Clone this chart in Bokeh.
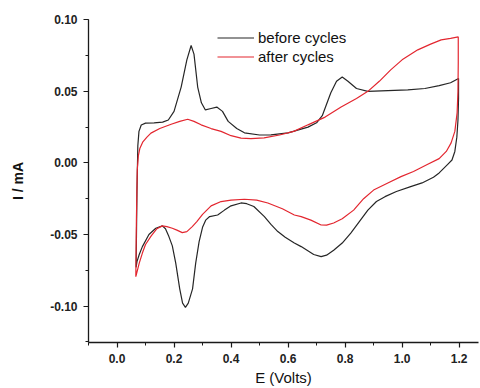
from bokeh.plotting import figure
from bokeh.models import (Range1d, SingleIntervalTicker, PrintfTickFormatter,
                          Legend, LegendItem, ColumnDataSource)
from bokeh.embed import file_html
from bokeh.resources import INLINE

# ---- data ----
before_E = [0.067, 0.070, 0.073, 0.077, 0.085, 0.10, 0.13, 0.16, 0.18, 0.20, 0.225,
            0.245, 0.26, 0.27, 0.283, 0.296, 0.31, 0.33, 0.35, 0.37, 0.39, 0.42,
            0.447, 0.50, 0.54, 0.60, 0.67, 0.70, 0.72, 0.75, 0.77, 0.79, 0.81,
            0.84, 0.88, 0.95, 1.02, 1.08, 1.13, 1.17, 1.198,
            1.198, 1.196, 1.192, 1.185, 1.175, 1.16, 1.13, 1.11, 1.07, 1.03, 0.98,
            0.94, 0.91, 0.88, 0.85, 0.82, 0.79, 0.76, 0.735, 0.716, 0.69, 0.646,
            0.622, 0.59, 0.564, 0.54, 0.517, 0.48, 0.455, 0.435, 0.40, 0.377,
            0.353, 0.325, 0.311, 0.30, 0.288, 0.276, 0.265, 0.25, 0.24, 0.23,
            0.22, 0.206, 0.194, 0.182, 0.17, 0.159, 0.136, 0.112, 0.089, 0.078,
            0.070, 0.067]
before_I = [-0.073, -0.020, 0.012, 0.022, 0.0265, 0.0278, 0.028, 0.0285, 0.030,
            0.036, 0.053, 0.072, 0.082, 0.076, 0.053, 0.042, 0.037, 0.038, 0.039,
            0.036, 0.029, 0.024, 0.021, 0.0195, 0.0196, 0.021, 0.025, 0.028, 0.033,
            0.049, 0.057, 0.060, 0.057, 0.052, 0.050, 0.0505, 0.051, 0.052, 0.054,
            0.056, 0.059,
            0.045, 0.030, 0.018, 0.008, 0.002, -0.001, -0.007, -0.010, -0.014,
            -0.0166, -0.020, -0.0236, -0.027, -0.033, -0.041, -0.049, -0.056,
            -0.061, -0.0645, -0.0655, -0.064, -0.0585, -0.056, -0.052, -0.048,
            -0.043, -0.0375, -0.0305, -0.0285, -0.028, -0.030, -0.033, -0.0364,
            -0.0375, -0.040, -0.045, -0.055, -0.070, -0.088, -0.098, -0.101,
            -0.098, -0.088, -0.070, -0.058, -0.0515, -0.046, -0.044, -0.0457,
            -0.050, -0.0585, -0.064, -0.069, -0.073]

after_E = [0.066, 0.068, 0.071, 0.075, 0.08, 0.09, 0.105, 0.119, 0.15, 0.19, 0.22,
           0.248, 0.27, 0.295, 0.33, 0.365, 0.40, 0.435, 0.47, 0.516, 0.57, 0.62,
           0.67, 0.73, 0.786, 0.84, 0.88, 0.92, 0.96, 1.00, 1.055, 1.10, 1.137,
           1.17, 1.197,
           1.197, 1.196, 1.193, 1.185, 1.172, 1.155, 1.13, 1.09, 1.04, 0.996,
           0.95, 0.90, 0.865, 0.83, 0.79, 0.76, 0.735, 0.716, 0.68, 0.646, 0.622,
           0.58, 0.529, 0.49, 0.447, 0.40, 0.365, 0.33, 0.30, 0.28, 0.264, 0.245,
           0.229, 0.21, 0.194, 0.175, 0.159, 0.14, 0.12, 0.10, 0.089, 0.078,
           0.066]
after_I = [-0.0795, -0.040, -0.005, 0.005, 0.010, 0.0145, 0.018, 0.0208, 0.024,
           0.027, 0.029, 0.0305, 0.029, 0.0266, 0.024, 0.022, 0.019, 0.0173,
           0.017, 0.0175, 0.0195, 0.022, 0.0266, 0.032, 0.039, 0.045, 0.050,
           0.057, 0.065, 0.072, 0.079, 0.083, 0.086, 0.087, 0.088,
           0.070, 0.050, 0.035, 0.022, 0.014, 0.008, 0.003, -0.001, -0.006,
           -0.0096, -0.014, -0.019, -0.025, -0.033, -0.039, -0.042, -0.0435,
           -0.0434, -0.040, -0.0375, -0.0364, -0.032, -0.028, -0.026, -0.0254,
           -0.026, -0.027, -0.030, -0.036, -0.041, -0.0445, -0.048, -0.0487,
           -0.047, -0.0457, -0.0445, -0.044, -0.046, -0.051, -0.057, -0.063,
           -0.070, -0.0795]

series_labels = ["before cycles", "after cycles"]
series_colors = ["#262626", "#e3262f"]

FONT = "Liberation Sans"

p = figure(width=480, height=388, output_backend="svg", toolbar_location=None,
           x_range=Range1d(-0.1, 1.268), y_range=Range1d(-0.1255, 0.1002),
           min_border_left=88, min_border_right=2, min_border_top=19,
           min_border_bottom=46, background_fill_color="white",
           border_fill_color="white")
p.outline_line_color = None
p.xgrid.visible = False
p.ygrid.visible = False

r1 = p.line(x="E", y="I", source=ColumnDataSource(dict(E=before_E, I=before_I)),
            line_color=series_colors[0], line_width=1.2)
r2 = p.line(x="E", y="I", source=ColumnDataSource(dict(E=after_E, I=after_I)),
            line_color=series_colors[1], line_width=1.2)

xa = p.xaxis[0]
ya = p.yaxis[0]
xa.ticker = SingleIntervalTicker(interval=0.2, num_minor_ticks=2)
ya.ticker = SingleIntervalTicker(interval=0.05, num_minor_ticks=2)
xa.formatter = PrintfTickFormatter(format="%.1f")
ya.formatter = PrintfTickFormatter(format="%.2f")
for ax in (xa, ya):
    ax.axis_line_color = "#1a1a1a"
    ax.axis_line_width = 1.3
    ax.major_tick_line_color = "#1a1a1a"
    ax.minor_tick_line_color = "#1a1a1a"
    ax.major_tick_line_width = 1.2
    ax.minor_tick_line_width = 1.0
    ax.major_tick_in = 0
    ax.major_tick_out = 5
    ax.minor_tick_in = 0
    ax.minor_tick_out = 3
    ax.major_label_text_font = FONT
    ax.major_label_text_font_size = "12px"
    ax.major_label_text_font_style = "bold"
    ax.major_label_text_color = "#222222"
    ax.major_label_standoff = 6
    ax.axis_label_text_font = FONT
    ax.axis_label_text_color = "#111111"

xa.axis_label = "E (Volts)"
xa.axis_label_text_font_size = "15px"
xa.axis_label_text_font_style = "normal"
xa.axis_label_standoff = 3

ya.axis_label = "I / mA"
ya.axis_label_text_font_size = "14px"
ya.axis_label_text_font_style = "bold"
ya.axis_label_standoff = 21

legend = Legend(items=[LegendItem(label=series_labels[0], renderers=[r1]),
                       LegendItem(label=series_labels[1], renderers=[r2])],
                location=(129, 277), padding=0, margin=0, spacing=2,
                glyph_width=37, glyph_height=17, label_height=17,
                label_standoff=4, label_text_font=FONT,
                label_text_font_size="15px", label_text_color="#111111",
                border_line_color=None, background_fill_alpha=0)
p.add_layout(legend)

open("out.html", "w").write(file_html(p, INLINE))
